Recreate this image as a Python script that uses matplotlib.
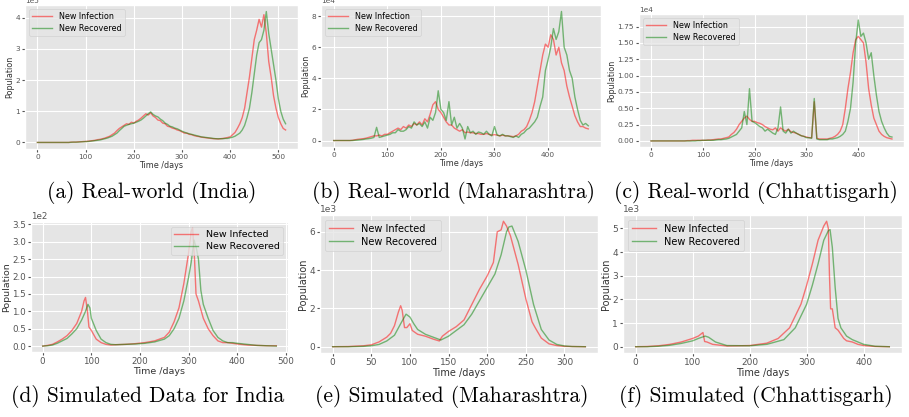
import numpy as np
import matplotlib
matplotlib.use('Agg')
import matplotlib.pyplot as plt

plt.style.use('ggplot')

# ---- (a) real-world India, units of 1e5, every 5 days
days_a = np.arange(0, 520, 5)
inf_a = [0, 0, 0, 0, 0, 0, 0, 0, 0, 0, 0, 0, 0, 0, 0.01, 0.01,
         0.01, 0.02, 0.02, 0.03, 0.03, 0.04, 0.05, 0.06,
         0.07, 0.09, 0.1, 0.12, 0.14, 0.17, 0.2, 0.25,
         0.3, 0.38, 0.45, 0.5, 0.55, 0.6, 0.58, 0.65,
         0.62, 0.68, 0.72, 0.78, 0.85, 0.92, 0.88, 0.95,
         0.85, 0.8, 0.72, 0.7, 0.62, 0.6, 0.52, 0.5,
         0.46, 0.44, 0.4, 0.38, 0.34, 0.3, 0.3, 0.26,
         0.25, 0.22, 0.2, 0.19, 0.17, 0.16, 0.15, 0.14,
         0.13, 0.12, 0.12, 0.11, 0.12, 0.13, 0.14, 0.16,
         0.18, 0.25, 0.32, 0.45, 0.6, 0.8, 1.1, 1.6,
         2.1, 2.7, 3.3, 3.6, 3.95, 3.7, 4.1, 3.5,
         2.6, 2.1, 1.5, 1.1, 0.8, 0.6, 0.45, 0.4]
rec_a = [0, 0, 0, 0, 0, 0, 0, 0, 0, 0, 0, 0, 0, 0, 0.005, 0.01,
         0.01, 0.01, 0.02, 0.02, 0.03, 0.03, 0.04, 0.05,
         0.06, 0.07, 0.08, 0.1, 0.12, 0.14, 0.17, 0.2,
         0.25, 0.3, 0.38, 0.45, 0.52, 0.55, 0.58, 0.6,
         0.62, 0.65, 0.68, 0.72, 0.78, 0.85, 0.92, 0.98,
         0.9, 0.85, 0.82, 0.75, 0.7, 0.62, 0.58, 0.52,
         0.5, 0.46, 0.44, 0.4, 0.36, 0.33, 0.3, 0.28,
         0.26, 0.24, 0.22, 0.2, 0.18, 0.17, 0.16, 0.15,
         0.14, 0.13, 0.12, 0.12, 0.12, 0.12, 0.13, 0.13,
         0.15, 0.17, 0.2, 0.25, 0.3, 0.4, 0.55, 0.8,
         1.1, 1.6, 2.2, 2.8, 3.2, 3.3, 3.6, 4.2,
         3.5, 3.0, 2.5, 2.0, 1.4, 1.0, 0.75, 0.6]

# ---- (b) real-world Maharashtra, units of 1e4
days_b = np.arange(0, 480, 5)
inf_b = [0, 0, 0, 0, 0, 0, 0, 0.02, 0.05, 0.08, 0.1, 0.12, 0.15, 0.2, 0.25, 0.3,
         0.3, 0.35, 0.3, 0.4, 0.4, 0.5, 0.6, 0.7,
         0.8, 0.7, 0.9, 0.8, 1.0, 0.9, 1.1, 1.0,
         1.2, 1.0, 1.4, 1.2, 1.7, 2.3, 2.5, 2.0,
         1.8, 1.5, 1.2, 1.0, 1.0, 0.8, 0.7, 0.6,
         0.7, 0.5, 0.55, 0.5, 0.5, 0.45, 0.45, 0.4,
         0.4, 0.45, 0.4, 0.35, 0.38, 0.35, 0.3, 0.35,
         0.3, 0.3, 0.28, 0.25, 0.3, 0.4, 0.6, 0.7,
         0.9, 1.3, 1.8, 2.5, 3.5, 4.5, 5.5, 6.2,
         6.0, 6.8, 6.5, 5.5, 6.0, 5.0, 4.5, 3.5,
         2.8, 2.2, 1.6, 1.2, 0.9, 0.9, 0.8, 0.75]
rec_b = [0, 0, 0, 0, 0, 0, 0, 0, 0.02, 0.03, 0.05, 0.07, 0.1, 0.12, 0.15, 0.2,
         0.85, 0.2, 0.25, 0.3, 0.35, 0.4, 0.5, 0.5,
         0.7, 0.6, 0.6, 0.7, 0.9, 0.8, 1.2, 1.0,
         1.1, 0.9, 1.2, 0.8, 1.5, 1.3, 1.8, 3.2,
         2.0, 1.8, 1.3, 2.5, 1.0, 1.5, 0.8, 1.1,
         0.8, 0.1, 0.9, 0.5, 0.6, 0.4, 0.55, 0.5,
         0.4, 0.6, 0.4, 0.3, 0.9, 0.35, 0.3, 0.4,
         0.3, 0.3, 0.25, 0.2, 0.3, 0.2, 0.4, 0.5,
         0.7, 0.8, 1.0, 1.2, 1.5, 2.2, 2.8, 4.5,
         5.2, 6.0, 7.2, 6.5, 7.0, 8.3, 6.0, 5.5,
         4.5, 4.0, 2.8, 2.0, 1.3, 1.0, 1.1, 0.95]

# ---- (c) real-world Chhattisgarh, units of 1e4
days_c = np.arange(0, 470, 5)
inf_c = [0, 0, 0, 0, 0, 0, 0, 0, 0, 0, 0, 0, 0, 0, 0.005, 0.005,
         0.01, 0.01, 0.01, 0.01, 0.01, 0.01, 0.015, 0.015,
         0.02, 0.025, 0.03, 0.03, 0.04, 0.05, 0.06, 0.1,
         0.13, 0.18, 0.25, 0.3, 0.35, 0.38, 0.33, 0.3,
         0.3, 0.28, 0.27, 0.25, 0.22, 0.2, 0.18, 0.17,
         0.2, 0.15, 0.2, 0.17, 0.15, 0.18, 0.14, 0.13,
         0.12, 0.1, 0.08, 0.07, 0.06, 0.05, 0.05, 0.6,
         0.04, 0.03, 0.03, 0.03, 0.03, 0.04, 0.05, 0.07,
         0.1, 0.15, 0.25, 0.5, 0.8, 1.05, 1.35, 1.55,
         1.6, 1.55, 1.5, 1.2, 0.8, 0.55, 0.35, 0.25,
         0.15, 0.1, 0.07, 0.05, 0.04, 0.03]
rec_c = [0, 0, 0, 0, 0, 0, 0, 0, 0, 0, 0, 0, 0, 0, 0, 0,
         0, 0, 0.005, 0.005, 0.01, 0.01, 0.01, 0.01,
         0.01, 0.015, 0.02, 0.02, 0.025, 0.03, 0.04, 0.06,
         0.08, 0.1, 0.15, 0.2, 0.45, 0.25, 0.8, 0.3,
         0.28, 0.25, 0.22, 0.2, 0.15, 0.18, 0.15, 0.12,
         0.1, 0.2, 0.52, 0.15, 0.12, 0.18, 0.12, 0.15,
         0.12, 0.1, 0.08, 0.07, 0.05, 0.05, 0.04, 0.65,
         0.03, 0.02, 0.02, 0.02, 0.02, 0.03, 0.03, 0.04,
         0.05, 0.07, 0.1, 0.15, 0.3, 0.5, 0.9, 1.5,
         1.85, 1.6, 1.65, 1.5, 1.25, 1.35, 1.0, 0.7,
         0.45, 0.3, 0.2, 0.12, 0.07, 0.06]

# ---- (d) simulated India, units of 1e2
days_d_inf = [0, 10, 20, 30, 40, 50, 60, 70, 80, 85, 88, 92, 95, 100, 110, 120, 130, 140,
              150, 170, 190, 210, 230, 250, 260, 270, 280, 290, 300, 305, 308, 312, 315,
              320, 330, 340, 350, 360, 370, 380, 390, 400, 420, 440, 460, 480]
inf_d = [0, 0.02, 0.05, 0.12, 0.2, 0.3, 0.45, 0.65, 1.0, 1.3, 1.4, 1.0, 0.55, 0.45, 0.2,
         0.1, 0.05, 0.03, 0.04, 0.05, 0.07, 0.1, 0.15, 0.25, 0.4, 0.7, 1.1, 1.8, 2.7,
         3.3, 3.4, 2.5, 1.5, 1.3, 0.8, 0.5, 0.3, 0.15, 0.1, 0.1, 0.08, 0.06, 0.03,
         0.02, 0.01, 0.01]
days_d_rec = [0, 10, 20, 30, 40, 50, 60, 70, 80, 88, 93, 97, 100, 110, 120, 130, 140,
              150, 170, 190, 210, 230, 250, 260, 270, 280, 290, 300, 305, 311, 316, 320,
              325, 330, 340, 350, 360, 370, 380, 390, 400, 420, 440, 460, 480]
rec_d = [0, 0.01, 0.03, 0.08, 0.15, 0.22, 0.35, 0.5, 0.75, 1.0, 1.2, 1.1, 0.8, 0.45,
         0.2, 0.1, 0.05, 0.04, 0.05, 0.06, 0.08, 0.12, 0.2, 0.3, 0.5, 0.8, 1.3, 2.0,
         2.4, 3.05, 2.8, 2.5, 1.6, 1.2, 0.8, 0.45, 0.25, 0.15, 0.1, 0.1, 0.08, 0.05,
         0.02, 0.01, 0.0]

# ---- (e) simulated Maharashtra, units of 1e3
days_e_inf = [0, 20, 40, 50, 60, 70, 75, 80, 85, 88, 90, 93, 96, 100, 103, 110, 120,
              130, 138, 142, 150, 160, 170, 180, 190, 200, 208, 213, 218, 221, 225,
              230, 240, 250, 258, 262, 270, 280, 290, 300, 310, 327]
inf_e = [0, 0.01, 0.05, 0.1, 0.25, 0.5, 0.7, 1.1, 1.8, 2.14, 1.9, 1.0, 1.0, 1.2, 0.85,
         0.65, 0.55, 0.4, 0.3, 0.55, 0.8, 1.05, 1.4, 2.2, 3.0, 3.7, 4.4, 6.0, 6.1,
         6.55, 6.3, 5.8, 4.3, 2.5, 1.3, 1.0, 0.45, 0.15, 0.06, 0.02, 0.01, 0]
days_e_rec = [0, 20, 40, 50, 60, 70, 80, 88, 95, 100, 105, 110, 120, 130, 140, 150,
              160, 170, 180, 190, 200, 210, 218, 225, 228, 232, 240, 250, 260, 270,
              280, 290, 300, 310, 327]
rec_e = [0, 0.0, 0.02, 0.05, 0.12, 0.3, 0.6, 1.2, 1.7, 1.55, 1.2, 0.9, 0.65, 0.5, 0.35,
         0.55, 0.85, 1.15, 1.7, 2.4, 3.1, 3.8, 4.8, 6.0, 6.25, 6.3, 5.5, 4.0, 2.2, 0.9,
         0.35, 0.12, 0.04, 0.01, 0]

# ---- (f) simulated Chhattisgarh, units of 1e3
days_f_inf = [0, 20, 40, 60, 80, 100, 110, 118, 121, 125, 135, 160, 200, 230, 250, 270,
              290, 300, 310, 320, 330, 335, 338, 340, 342, 345, 350, 355, 365, 370, 380,
              390, 400, 420, 445]
inf_f = [0, 0.01, 0.04, 0.1, 0.2, 0.35, 0.45, 0.6, 0.22, 0.2, 0.1, 0.03, 0.05, 0.15,
         0.35, 0.8, 1.8, 2.6, 3.5, 4.5, 5.1, 5.3, 5.0, 3.0, 1.6, 1.6, 0.8, 0.7, 0.35,
         0.25, 0.2, 0.1, 0.05, 0.01, 0]
days_f_rec = [0, 20, 40, 60, 80, 100, 110, 122, 128, 140, 160, 200, 230, 260, 280,
              300, 310, 320, 330, 338, 341, 345, 350, 355, 360, 370, 380, 390, 400,
              420, 445]
rec_f = [0, 0.0, 0.02, 0.06, 0.14, 0.25, 0.35, 0.45, 0.4, 0.2, 0.05, 0.04, 0.1, 0.3,
         0.8, 1.8, 2.6, 3.5, 4.5, 4.9, 4.95, 4.2, 2.5, 1.2, 0.8, 0.45, 0.3, 0.2, 0.1,
         0.02, 0]

captions = ['(a) Real-world (India)', '(b) Real-world (Maharashtra)',
            '(c) Real-world (Chhattisgarh)', '(d) Simulated Data for India',
            '(e) Simulated (Maharashtra)', '(f) Simulated (Chhattisgarh)']

fig = plt.figure(figsize=(9.09, 4.17), dpi=100)
W, H = 909.0, 417.0

def add_ax(l, t, r, b):
    return fig.add_axes([l / W, 1 - b / H, (r - l) / W, (b - t) / H])

panels = [
    # (box, x_inf, y_inf, x_rec, y_rec, scale, labels, fontsize, legend loc, xticks, yticks, fmt)
    ((25, 5, 298, 149), days_a, inf_a, days_a, rec_a, '1e5',
     ('New Infection', 'New Recovered'), 5.3, 'upper left', [0, 100, 200, 300, 400, 500],
     None, None),
    ((321, 5, 601, 147), days_b, inf_b, days_b, rec_b, '1e4',
     ('New Infection', 'New Recovered'), 5.3, 'upper left', [0, 100, 200, 300, 400],
     None, None),
    ((639, 14, 904, 147), days_c, inf_c, days_c, rec_c, '1e4',
     ('New Infection', 'New Recovered'), 5.3, 'upper left', [0, 100, 200, 300, 400],
     [0, 0.25, 0.5, 0.75, 1.0, 1.25, 1.5, 1.75], '%.2f'),
    ((31, 222, 288, 352), days_d_inf, inf_d, days_d_rec, rec_d, '1e2',
     ('New Infected', 'New Recovered'), 6.3, 'upper right', [0, 100, 200, 300, 400, 500],
     [0, 0.5, 1.0, 1.5, 2.0, 2.5, 3.0, 3.5], '%.1f'),
    ((320, 215, 598, 353), days_e_inf, inf_e, days_e_rec, rec_e, '1e3',
     ('New Infected', 'New Recovered'), 6.5, 'upper left', [0, 50, 100, 150, 200, 250, 300],
     None, None),
    ((623, 215, 902, 353), days_f_inf, inf_f, days_f_rec, rec_f, '1e3',
     ('New Infected', 'New Recovered'), 6.5, 'upper left', [0, 100, 200, 300, 400],
     None, None),
]

for box, xi, yi, xr, yr, scale, labels, fs, loc, xt, yt, fmt in panels:
    ax = add_ax(*box)
    ax.plot(xi, yi, color='red', alpha=0.5, lw=1.0, label=labels[0])
    ax.plot(xr, yr, color='green', alpha=0.5, lw=1.0, label=labels[1])
    ax.set_xticks(xt)
    if yt is not None:
        ax.set_yticks(yt)
        ax.set_yticklabels([fmt % v for v in yt])
    ax.tick_params(labelsize=fs, colors='#555555', length=2, pad=1.5)
    ax.set_xlabel('Time /days', fontsize=fs + 0.5, color='#333333', labelpad=1)
    ax.set_ylabel('Population', fontsize=fs + 0.5, color='#333333', labelpad=1)
    ax.text(0, 1.005, scale, transform=ax.transAxes, fontsize=fs, color='#555555',
            ha='left', va='bottom')
    ax.legend(loc=loc, fontsize=fs + 0.5, handlelength=2.5, borderpad=0.4, labelspacing=0.3)

cap_x = [152, 454, 756, 148, 452, 756]
cap_y = [192, 192, 192, 397, 397, 397]
for txt, cx, cy in zip(captions, cap_x, cap_y):
    fig.text(cx / W, 1 - cy / H, txt, fontfamily='cmr10', fontsize=15.5,
             ha='center', va='center', color='black')

fig.savefig('out.png', dpi=100, facecolor='white')
